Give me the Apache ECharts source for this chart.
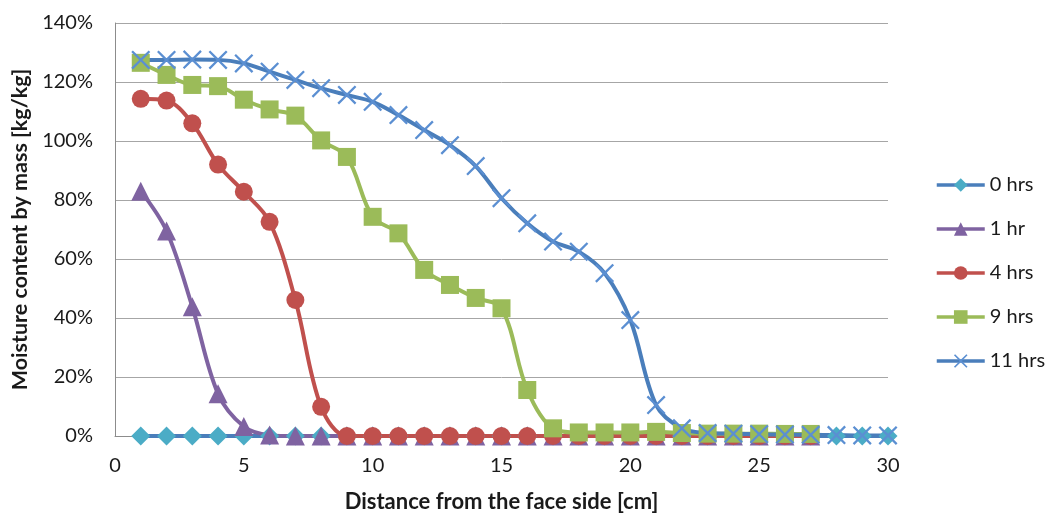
<!DOCTYPE html>
<html>
<head>
<meta charset="utf-8">
<title>Moisture content profiles</title>
<script src="https://cdn.jsdelivr.net/npm/echarts@6/dist/echarts.min.js"></script>
<style>
  html, body { margin: 0; padding: 0; background: #ffffff; }
  #chart { width: 1046px; height: 515px; }
</style>
</head>
<body>
<div id="chart"></div>
<script>
// Distance from the face side [cm]
const distance = [1,2,3,4,5,6,7,8,9,10,11,12,13,14,15,16,17,18,19,20,21,22,23,24,25,26,27,28,29,30];

// Moisture content by mass [%], one list per drying time
const hrs0  = [0,0,0,0,0,0,0,0,0,0,0,0,0,0,0,0,0,0,0,0,0,0,0,0,0,0,0,0,0,0];
const hrs1  = [83,69.5,43.8,14.3,3.2,0.3,0,0,0,0,0,0,0,0,0,0,0,0,0,0,0,0,0,0,0,0,0];
const hrs4  = [114.3,113.7,106,92,82.8,72.6,46.1,9.9,0,0,0,0,0,0,0,0,0,0,0,0,0,0,0,0,0,0,0];
const hrs9  = [126.5,122.4,119,118.6,114,110.7,108.6,100.2,94.6,74.3,68.7,56.3,51.2,46.8,43.3,15.6,2.6,1.2,1.2,1.2,1.4,1,0.8,0.8,0.8,0.7,0.7];
const hrs11 = [127.5,127.5,127.6,127.5,126.3,123.5,120.7,117.9,115.6,113.3,108.8,103.7,98.6,91.5,80.6,72.1,65.9,62.5,55.2,39.3,10.5,2.6,1,0.8,0.6,0.5,0.4,0.3,0.2,0.2];

const seriesNames = ['0 hrs', '1 hr', '4 hrs', '9 hrs', '11 hrs'];
const yTicks = [0, 20, 40, 60, 80, 100, 120, 140];
const xTicks = [0, 5, 10, 15, 20, 25, 30];

const FONT = 'Lato, "Liberation Sans", sans-serif';
// "x" marker drawn as a filled outline of two crossing bars
const crossPath = 'path://M0,1.7L1.7,0L10,8.3L18.3,0L20,1.7L11.7,10L20,18.3L18.3,20L10,11.7L1.7,20L0,18.3L8.3,10Z';

function pairs(values) {
  return values.map((v, i) => [distance[i], v]);
}

function lineSeries(name, values, lineColor, markColor, symbol, size) {
  return {
    name: name,
    type: 'line',
    data: pairs(values),
    smooth: 0.35,
    symbol: symbol,
    symbolSize: size,
    showAllSymbol: true,
    lineStyle: { color: lineColor, width: 4 },
    itemStyle: { color: markColor, borderWidth: 0 },
    emphasis: { disabled: true },
    animation: false
  };
}

const chart = echarts.init(document.getElementById('chart'), null, { renderer: 'canvas' });

chart.setOption({
  backgroundColor: '#ffffff',
  animation: false,
  grid: { left: 115, right: 158, top: 23, bottom: 79, containLabel: false, outerBoundsMode: 'none' },
  legend: {
    orient: 'vertical',
    left: 935,
    top: 175,
    padding: 0,
    itemWidth: 48,
    itemHeight: 17,
    itemGap: 24,
    itemTextGap: 3,
    lineStyle: { width: 3.5 },
    textStyle: { fontFamily: FONT, fontSize: 20, color: '#1a1a1a' },
    data: seriesNames
  },
  xAxis: {
    type: 'value',
    min: xTicks[0],
    max: xTicks[xTicks.length - 1],
    interval: 5,
    name: 'Distance from the face side [cm]',
    nameLocation: 'middle',
    nameGap: 55,
    nameTextStyle: { fontFamily: FONT, fontSize: 22, fontWeight: 'bold', color: '#1a1a1a' },
    axisLine: { show: true, onZero: false, lineStyle: { color: '#8c8c8c', width: 1 } },
    axisTick: { show: false },
    axisLabel: { fontFamily: FONT, fontSize: 20, color: '#1a1a1a', margin: 20 },
    splitLine: { show: false }
  },
  yAxis: {
    type: 'value',
    min: yTicks[0],
    max: yTicks[yTicks.length - 1],
    interval: 20,
    name: 'Moisture content by mass [kg/kg]',
    nameLocation: 'middle',
    nameRotate: 90,
    nameGap: 82,
    nameTextStyle: { fontFamily: FONT, fontSize: 21.5, fontWeight: 'bold', color: '#1a1a1a' },
    axisLine: { show: true, lineStyle: { color: '#8c8c8c', width: 1 } },
    axisTick: { show: false },
    axisLabel: { fontFamily: FONT, fontSize: 20, color: '#1a1a1a', margin: 22, formatter: '{value}%' },
    splitLine: { show: true, lineStyle: { color: '#a6a6a6', width: 1 } }
  },
  series: [
    lineSeries(seriesNames[0], hrs0,  '#4a7ebb', '#4bacc6', 'diamond', 19),
    lineSeries(seriesNames[1], hrs1,  '#7f63a1', '#7f63a1', 'triangle', 19),
    lineSeries(seriesNames[2], hrs4,  '#c0504d', '#c0504d', 'circle', 18),
    lineSeries(seriesNames[3], hrs9,  '#9bbb59', '#9bbb59', 'rect', 18),
    lineSeries(seriesNames[4], hrs11, '#4a7ebb', '#5b8fd2', crossPath, 19)
  ]
});
</script>
</body>
</html>
